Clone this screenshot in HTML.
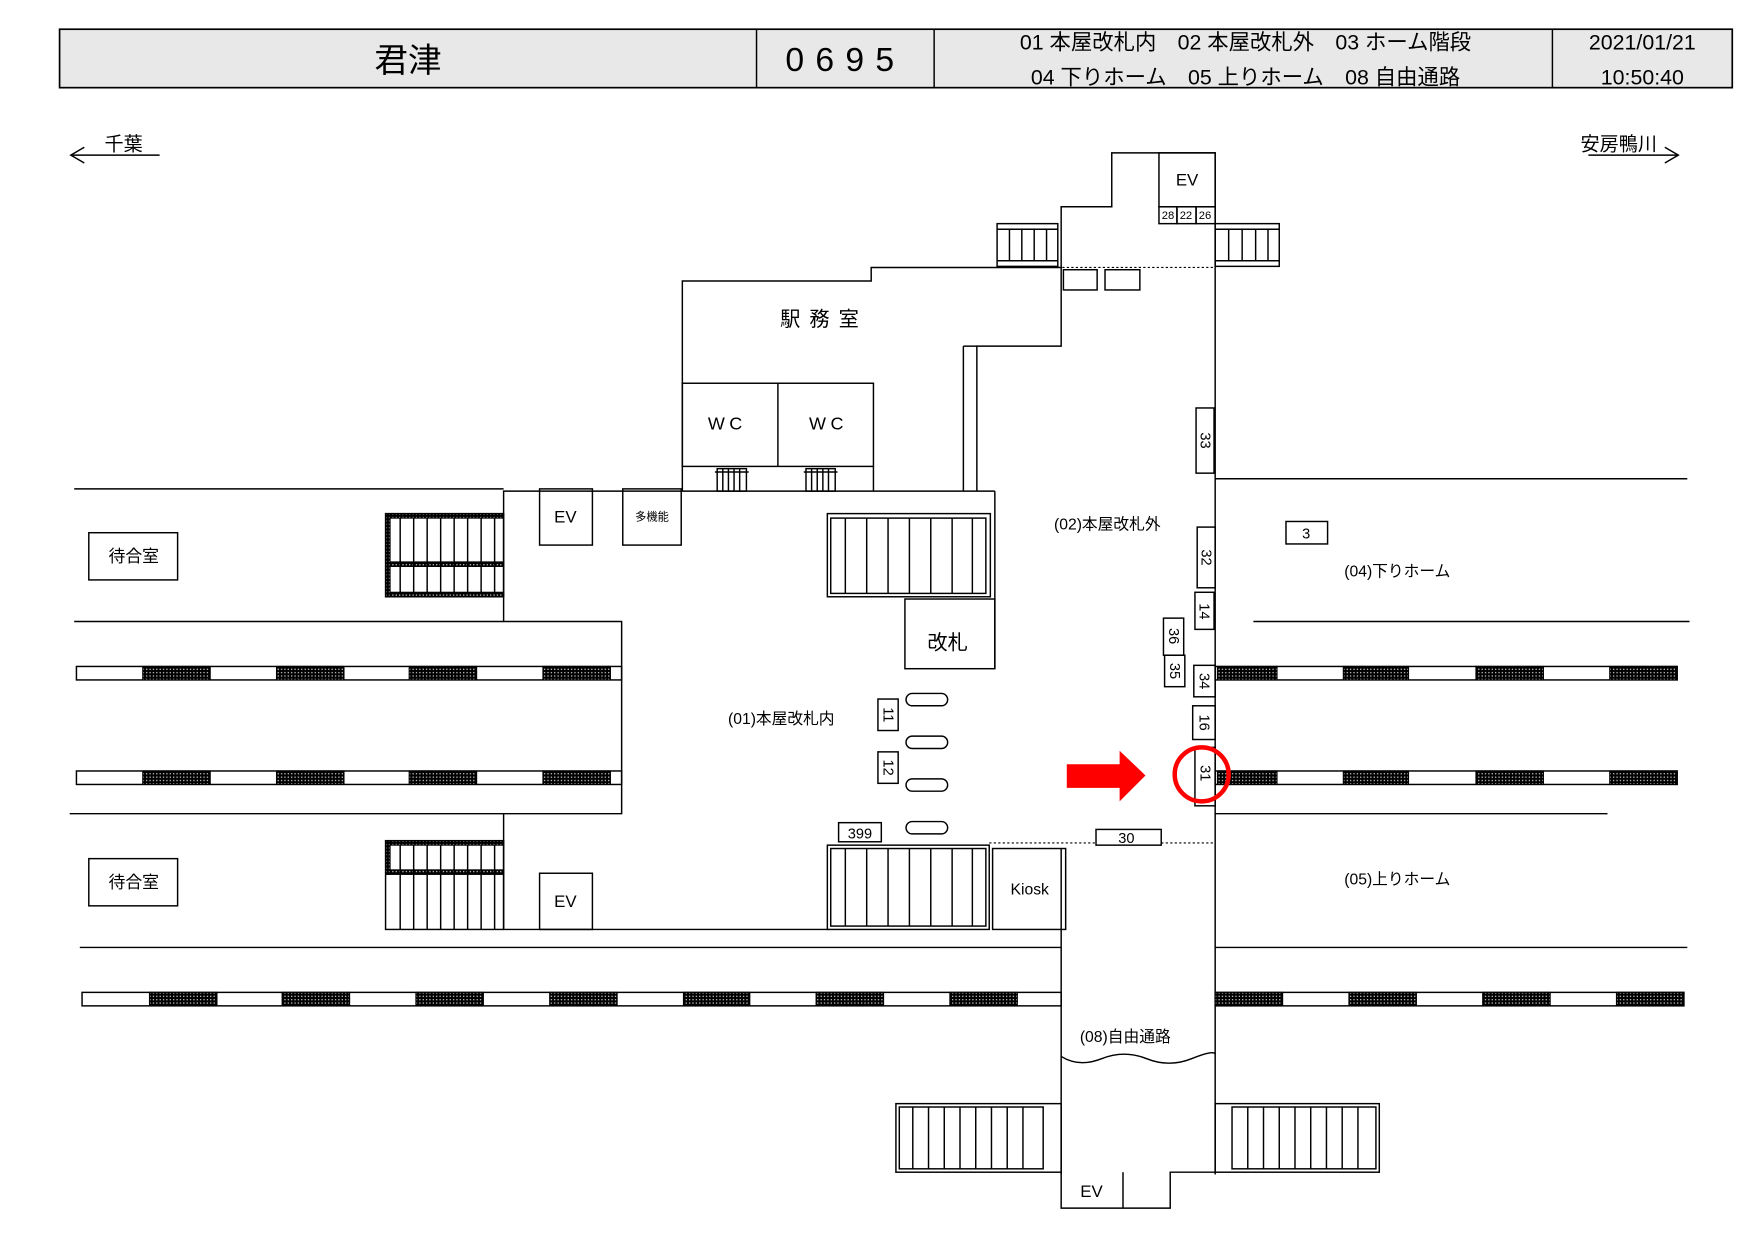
<!DOCTYPE html>
<html><head><meta charset="utf-8"><style>
html,body{margin:0;padding:0;background:#fff;}
svg{display:block;}
text{font-family:"Liberation Sans","Noto Sans CJK JP",sans-serif;fill:#000;}
</style></head><body>
<svg width="1757" height="1243" viewBox="0 0 1563 1106" preserveAspectRatio="none" xmlns="http://www.w3.org/2000/svg">
<defs>
<pattern id="hat" width="3" height="3" patternUnits="userSpaceOnUse"><rect width="3" height="3" fill="#000"/><rect x="1" y="1" width="1" height="1" fill="#fff"/></pattern>
</defs>
<g stroke="#000" fill="none" stroke-width="1.3">
<!-- header -->
<rect x="53" y="26" width="1488" height="52" fill="#e8e8e8" stroke-width="1.5"/>
<line x1="673" y1="26" x2="673" y2="78"/><line x1="831" y1="26" x2="831" y2="78"/><line x1="1381" y1="26" x2="1381" y2="78"/>
<!-- direction arrows -->
<polyline points="75,131 63,138 75,145"/><line x1="63" y1="138" x2="142" y2="138"/>
<polyline points="1481,131 1493,138 1481,145"/><line x1="1413" y1="138" x2="1493" y2="138"/>
<!-- top structure -->
<polyline points="1081,1045 1081,136 989,136 989,184 944,184 944,238 775,238 775,250 607,250 607,437"/>
<polyline points="944,238 944,308 869,308 869,437"/>
<line x1="857" y1="308" x2="857" y2="437"/><line x1="857" y1="308" x2="869" y2="308"/>
<rect x="607" y="341" width="170" height="74"/><line x1="692" y1="341" x2="692" y2="415"/><line x1="777" y1="415" x2="777" y2="437"/>
<rect x="1031" y="136" width="50" height="48"/>
<rect x="1031" y="184" width="16" height="15"/><rect x="1047" y="184" width="17" height="15"/><rect x="1064" y="184" width="17" height="15"/>
<rect x="946" y="240" width="30" height="18"/><rect x="983" y="240" width="31" height="18"/>
<line x1="941" y1="238" x2="1081" y2="238" stroke-dasharray="2,2" stroke-width="1"/>
<!-- top stairs -->
<rect x="887" y="199" width="54" height="38"/><line x1="887" y1="204" x2="941" y2="204"/><line x1="887" y1="232" x2="941" y2="232"/>
<path d="M898 204V232M909 204V232M920 204V232M931 204V232"/>
<rect x="1081" y="199" width="57" height="38"/><line x1="1081" y1="204" x2="1138" y2="204"/><line x1="1081" y1="232" x2="1138" y2="232"/>
<path d="M1093 204V232M1105 204V232M1117 204V232M1128 204V232"/>
<!-- small WC stairs -->
<rect x="638" y="417" width="26" height="20"/><path d="M643 417V437M648 417V437M653 417V437M658 417V437"/><line x1="636" y1="420" x2="666" y2="420"/>
<rect x="717" y="417" width="26" height="20"/><path d="M722 417V437M727 417V437M732 417V437M737 417V437"/><line x1="715" y1="420" x2="745" y2="420"/>
<!-- main concourse outline -->
<polyline points="885,437 448,437 448,553 553,553 553,724 448,724 448,748"/>
<line x1="448" y1="827" x2="737" y2="827"/>
<line x1="885" y1="437" x2="885" y2="595"/><rect x="805" y="533" width="80" height="62"/>
<!-- platform lines -->
<line x1="66" y1="435" x2="448" y2="435"/><line x1="66" y1="553" x2="448" y2="553"/>
<line x1="62" y1="724" x2="448" y2="724"/><line x1="71" y1="843" x2="944" y2="843"/>
<line x1="1081" y1="843" x2="1501" y2="843"/><line x1="1081" y1="426" x2="1501" y2="426"/>
<line x1="1115" y1="553" x2="1503" y2="553"/><line x1="1081" y1="724" x2="1430" y2="724"/>
<!-- tracks -->
<rect x="68" y="593" width="485" height="12"/><rect x="68" y="686" width="485" height="12"/>
<rect x="1081" y="593" width="411" height="12"/><rect x="1081" y="686" width="411" height="12"/>
<rect x="73" y="883" width="871" height="12"/><rect x="1081" y="883" width="417" height="12"/>
</g>
<g fill="url(#hat)" stroke="#000" stroke-width="1">
<rect x="127" y="593" width="60" height="12"/><rect x="246" y="593" width="60" height="12"/><rect x="364" y="593" width="60" height="12"/><rect x="483" y="593" width="60" height="12"/>
<rect x="127" y="686" width="60" height="12"/><rect x="246" y="686" width="60" height="12"/><rect x="364" y="686" width="60" height="12"/><rect x="483" y="686" width="60" height="12"/>
<rect x="1083" y="593" width="53" height="12"/><rect x="1195" y="593" width="58" height="12"/><rect x="1313" y="593" width="60" height="12"/><rect x="1432" y="593" width="60" height="12"/>
<rect x="1083" y="686" width="53" height="12"/><rect x="1195" y="686" width="58" height="12"/><rect x="1313" y="686" width="60" height="12"/><rect x="1432" y="686" width="60" height="12"/>
<rect x="133" y="883" width="60" height="12"/><rect x="251" y="883" width="60" height="12"/><rect x="370" y="883" width="60" height="12"/><rect x="489" y="883" width="60" height="12"/><rect x="608" y="883" width="59" height="12"/><rect x="726" y="883" width="60" height="12"/><rect x="845" y="883" width="60" height="12"/>
<rect x="1081" y="883" width="60" height="12"/><rect x="1200" y="883" width="60" height="12"/><rect x="1319" y="883" width="60" height="12"/><rect x="1438" y="883" width="60" height="12"/>
<!-- left stairs hatch borders -->
<rect x="343" y="457" width="105" height="4"/><rect x="343" y="500" width="105" height="4"/><rect x="343" y="527" width="105" height="4"/>
<rect x="343" y="457" width="4" height="74"/>
<rect x="343" y="748" width="105" height="4"/><rect x="343" y="774" width="105" height="4"/><rect x="343" y="748" width="4" height="30"/>
</g>
<g stroke="#000" fill="none" stroke-width="1.3">
<rect x="343" y="457" width="105" height="74"/>
<path d="M356 461V527M368 461V527M380 461V527M392 461V527M404 461V527M416 461V527M428 461V527M440 461V527"/>
<rect x="343" y="748" width="105" height="79"/>
<path d="M356 752V827M368 752V827M380 752V827M392 752V827M404 752V827M416 752V827M428 752V827M440 752V827"/>
<line x1="448" y1="748" x2="448" y2="827"/>
<!-- EV boxes -->
<rect x="480" y="435" width="47" height="50"/><rect x="554" y="435" width="52" height="50"/><rect x="480" y="777" width="47" height="50"/>
<rect x="79" y="474" width="79" height="42"/><rect x="79" y="764" width="79" height="42"/>
<!-- big stairs -->
<rect x="736" y="457" width="145" height="74"/><rect x="739" y="461" width="138" height="67"/>
<path d="M752 461V528M771 461V528M790 461V528M809 461V528M828 461V528M847 461V528M865 461V528"/>
<rect x="736" y="752" width="144" height="75"/><rect x="739" y="755" width="138" height="69"/>
<path d="M752 755V824M771 755V824M790 755V824M809 755V824M828 755V824M847 755V824M865 755V824"/>
<rect x="883" y="755" width="65" height="72"/>
<rect x="746" y="732" width="38" height="17"/><rect x="975" y="738" width="58" height="14"/>
<line x1="880" y1="750" x2="975" y2="750" stroke-dasharray="2,2" stroke-width="1"/><line x1="1033" y1="750" x2="1081" y2="750" stroke-dasharray="2,2" stroke-width="1"/>
<rect x="806" y="617" width="37" height="11" rx="5.5"/><rect x="806" y="655" width="37" height="11" rx="5.5"/><rect x="806" y="693" width="37" height="11" rx="5.5"/><rect x="806" y="731" width="37" height="11" rx="5.5"/>
<rect x="781" y="622" width="18" height="28"/><rect x="781" y="669" width="18" height="28"/>
<!-- right column boxes -->
<rect x="1064" y="363" width="16" height="58"/><rect x="1065" y="469" width="16" height="54"/><rect x="1063" y="527" width="17" height="33"/>
<rect x="1035" y="550" width="18" height="33"/><rect x="1036" y="583" width="18" height="28"/><rect x="1062" y="592" width="19" height="28"/>
<rect x="1061" y="628" width="20" height="30"/><rect x="1063" y="665" width="18" height="52"/>
<rect x="1144" y="464" width="37" height="20"/>
<!-- free passage -->
<line x1="944" y1="755" x2="944" y2="1045"/>
<path d="M944 940 Q960 950 980 942 T1020 942 T1060 942 T1081 938"/>
<rect x="797" y="982" width="147" height="61"/><rect x="800" y="985" width="128" height="55"/>
<path d="M812 985V1040M826 985V1040M840 985V1040M854 985V1040M868 985V1040M882 985V1040M896 985V1040M910 985V1040"/>
<rect x="1081" y="982" width="146" height="61"/><rect x="1096" y="985" width="128" height="55"/>
<path d="M1110 985V1040M1124 985V1040M1138 985V1040M1152 985V1040M1166 985V1040M1180 985V1040M1194 985V1040M1208 985V1040"/>
<polyline points="944,1043 944,1075 1041,1075 1041,1043 1081,1043"/>
<line x1="999" y1="1043" x2="999" y2="1075"/>
</g>
<!-- red marks -->
<polygon points="949,680 996,680 996,668 1019,690 996,713 996,701 949,701" fill="#ff0000"/>
<circle cx="1069" cy="689" r="24" fill="none" stroke="#ff0000" stroke-width="4"/>
<!-- texts -->
<g text-anchor="middle">
<text x="363" y="64" font-size="30">君津</text>
<text x="752" y="63" font-size="30" letter-spacing="10">0695</text>
<text x="1108" y="44" font-size="19">01 本屋改札内　02 本屋改札外　03 ホーム階段</text>
<text x="1108" y="75" font-size="19">04 下りホーム　05 上りホーム　08 自由通路</text>
<text x="1461" y="44" font-size="19">2021/01/21</text>
<text x="1461" y="75" font-size="19">10:50:40</text>
<text x="110" y="134" font-size="17">千葉</text>
<text x="1440" y="134" font-size="17">安房鴨川</text>
<text x="1056" y="165" font-size="15">EV</text>
<g font-size="10"><text x="1039" y="195">28</text><text x="1055" y="195">22</text><text x="1072" y="195">26</text></g>
<text x="733" y="290" font-size="18" letter-spacing="8">駅務室</text>
<text x="647" y="382" font-size="16" letter-spacing="4">WC</text>
<text x="737" y="382" font-size="16" letter-spacing="4">WC</text>
<text x="503" y="465" font-size="15">EV</text>
<text x="580" y="463" font-size="10">多機能</text>
<text x="503" y="807" font-size="15">EV</text>
<text x="119" y="500" font-size="15">待合室</text>
<text x="119" y="790" font-size="15">待合室</text>
<text x="843" y="578" font-size="18">改札</text>
<text x="985" y="471" font-size="14">(02)本屋改札外</text>
<text x="1243" y="513" font-size="14">(04)下りホーム</text>
<text x="1243" y="787" font-size="14">(05)上りホーム</text>
<text x="695" y="644" font-size="14">(01)本屋改札内</text>
<text x="1001" y="927" font-size="14">(08)自由通路</text>
<text x="916" y="796" font-size="14">Kiosk</text>
<text x="971" y="1065" font-size="15">EV</text>
<text x="765" y="746" font-size="13">399</text>
<text x="1002" y="750" font-size="13">30</text>
<text x="1162" y="479" font-size="13">3</text>
</g>
<g font-size="13" text-anchor="middle">
<text transform="translate(1072,392) rotate(90)" y="4">33</text>
<text transform="translate(1073,496) rotate(90)" y="4">32</text>
<text transform="translate(1071,544) rotate(90)" y="4">14</text>
<text transform="translate(1044,566) rotate(90)" y="4">36</text>
<text transform="translate(1045,597) rotate(90)" y="4">35</text>
<text transform="translate(1071,606) rotate(90)" y="4">34</text>
<text transform="translate(1071,643) rotate(90)" y="4">16</text>
<text transform="translate(1072,688) rotate(90)" y="4">31</text>
<text transform="translate(790,636) rotate(90)" y="4">11</text>
<text transform="translate(790,683) rotate(90)" y="4">12</text>
</g>
</svg>
</body></html>
